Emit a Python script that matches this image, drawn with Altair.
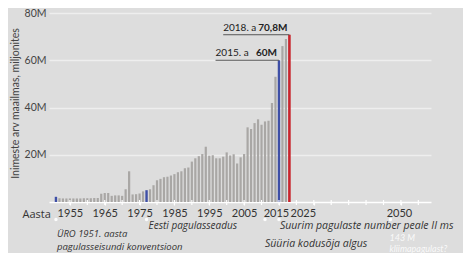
import altair as alt
import pandas as pd

# ---- data ----
years = list(range(1951, 2019))
refugees_m = [
    2.2,                                                      # 1951
    1.6, 1.5, 1.5, 1.5, 1.5, 1.5, 1.5, 1.6, 1.6, 1.6, 1.7, 1.7,  # 1952-1963
    3.5, 3.8, 3.8, 2.6, 2.8, 2.8, 2.6, 5.4, 13.0, 3.2,       # 1964-1973
    3.3, 3.6, 4.5, 5.0, 5.4, 7.1, 9.2, 9.8, 10.5, 10.7,      # 1974-1983
    11.2, 11.8, 12.6, 13.0, 14.3, 14.6, 17.1, 18.5, 19.4, 20.3,  # 1984-1993
    23.4, 19.6, 19.8, 18.5, 18.5, 19.2, 21.0, 19.7, 20.2, 16.3,  # 1994-2003
    18.9, 20.3, 31.6, 30.9, 33.4, 35.0, 32.7, 34.1, 34.4, 41.9,  # 2004-2013
    53.0, 60.0, 66.0, 69.0, 70.8,                              # 2014-2018
]
blue_years = [1951, 1977, 2015]
red_years = [2018]

y_ticks = [20, 40, 60, 80]
x_tick_years = list(range(1955, 2060, 5))
x_label_years = [1955, 1965, 1975, 1985, 1995, 2005, 2015, 2025, 2050]

callout_years = [2015, 2018]
callout_values = [60, 70.8]
callout_prefix = ["2015. a", "2018. a"]
callout_bold = ["60M", "70,8M"]
callout_from = [1996.8, 1999.0]

ev_uro_year, ev_uro_lines = 1951, ["ÜRO 1951. aasta", "pagulasseisundi konventsioon"]
ev_est_year, ev_est_lines = 1977, ["Eesti pagulasseadus"]
ev_max_year, ev_max_lines = 2015, ["Suurim pagulaste number peale II ms"]
ev_syr_year, ev_syr_lines = 2011, ["Süüria kodusõja algus"]
ev_clim_year, ev_clim_lines = 2047, ["143 M", "kliimapagulast?"]

# ---- build tables ----
kind = ["blue" if y in blue_years else "red" if y in red_years else "gray" for y in years]
bars_df = pd.DataFrame({"year": years, "value": refugees_m, "kind": kind})
call_df = pd.DataFrame({"year": callout_years, "value": callout_values,
                        "prefix": callout_prefix, "bold": callout_bold,
                        "ustart": callout_from})
ticks_df = pd.DataFrame({"year": x_tick_years})

FONT = "Lato"
ANN_FONT = "Open Sans"
TXT = "#333333"
xscale = alt.Scale(domain=[1950.44, 2057.2], nice=False, zero=False)
yscale = alt.Scale(domain=[0, 80], nice=False)

bars = alt.Chart(bars_df).mark_bar().encode(
    x=alt.X("year:Q", scale=xscale,
            axis=alt.Axis(values=x_label_years, format="d",
                          labelOffset={"condition": [
                              {"test": "datum.value == 2025", "value": -11},
                              {"test": "datum.value == 2015", "value": -3},
                              {"test": "datum.value == 2050", "value": -2}],
                              "value": 0},
                          labelOverlap=False, labelFlush=False,
                          grid=False, domainColor="white", domainWidth=1.5,
                          tickColor="white", tickSize=3, tickWidth=1.2,
                          labelColor=TXT, labelFontSize=11, labelPadding=2, labelFont=FONT,
                          title="Aasta", titleX=-27, titleY=15, titleAlign="left",
                          titleBaseline="alphabetic", titleFontWeight="normal",
                          titleFontSize=11, titleColor=TXT, titleFont=ANN_FONT)),
    y=alt.Y("value:Q", scale=yscale,
            axis=alt.Axis(values=y_ticks, labelExpr="datum.value + 'M'",
                          domain=False, ticks=False, gridColor="#eeeeee", gridWidth=1.3,
                          labelColor="#444444", labelFontSize=10.5, labelPadding=3, labelFont=FONT,
                          title="Inimeste arv maailmas, miljonites",
                          titleX=-34, titleY=90, titleAngle=-90, titleAlign="center",
                          titleBaseline="middle", titleFontWeight="normal",
                          titleFontSize=10.5, titleColor="#444444", titleFont=FONT)),
    color=alt.Color("kind:N", scale=alt.Scale(domain=["gray", "blue", "red"],
                                              range=["#a9a7a5", "#3e4fa6", "#c8252d"]),
                    legend=None),
    size=alt.Size("kind:N", scale=alt.Scale(domain=["gray", "blue", "red"],
                                            range=[2.2, 2.6, 3.0]),
                  legend=None),
)

# minor 5-year ticks along the axis line
minor_ticks = alt.Chart(ticks_df).mark_rule(color="white", strokeWidth=1.2).encode(
    x=alt.X("year:Q", scale=xscale), y=alt.value(187), y2=alt.value(192))

underline = alt.Chart(call_df).mark_rule(color="#555555", strokeWidth=1).encode(
    x=alt.X("ustart:Q", scale=xscale), x2="year:Q",
    y=alt.Y("value:Q", scale=yscale))

pref = alt.Chart(call_df).mark_text(align="left", baseline="alphabetic", dy=-4,
                                    fontSize=10, font=FONT, color="#222222").encode(
    x=alt.X("ustart:Q", scale=xscale),
    y=alt.Y("value:Q", scale=yscale), text="prefix:N")

bold = alt.Chart(call_df).mark_text(align="right", baseline="alphabetic", dx=-2, dy=-4,
                                    fontSize=10, font=FONT, fontWeight="bold",
                                    color="#222222").encode(
    x=alt.X("year:Q", scale=xscale),
    y=alt.Y("value:Q", scale=yscale), text="bold:N")

ev_years_all = [ev_uro_year, ev_est_year, ev_max_year, ev_syr_year, ev_clim_year]
dots = alt.Chart(pd.DataFrame({"year": ev_years_all})).mark_circle(
    size=12, color="white", opacity=0.9).encode(
    x=alt.X("year:Q", scale=xscale), y=alt.value(206.5))


def ev_text(year, lines, rows, dx, color=TXT, opacity=1.0, size=10, font=ANN_FONT):
    layers = []
    for line, row in zip(lines, rows):
        layers.append(
            alt.Chart(pd.DataFrame({"year": [year], "label": [line]})).mark_text(
                align="left", baseline="middle", dx=dx, fontSize=size, font=font,
                fontStyle="italic", color=color, opacity=opacity).encode(
                x=alt.X("year:Q", scale=xscale), y=alt.value(row),
                text="label:N"))
    return layers


texts = []
texts += ev_text(ev_uro_year, ev_uro_lines, [220.5, 234], 1, size=9.5)
texts += ev_text(ev_est_year, ev_est_lines, [213], 2)
texts += ev_text(ev_max_year, ev_max_lines, [213], 1, size=10.5)
texts += ev_text(ev_syr_year, ev_syr_lines, [231], 0, size=10.5)
texts += ev_text(ev_clim_year, ev_clim_lines, [225, 235.5], -1,
                 color="#ffffff", opacity=0.85, size=9, font=FONT)

chart = alt.layer(bars, minor_ticks, underline, pref, bold, dots, *texts).properties(
    width=382, height=189,
    autosize=alt.AutoSizeParams(type="none"),
    padding={"left": 41, "top": 5, "right": 32, "bottom": 51},
).configure(background="#dddddd", font=FONT).configure_view(
    strokeWidth=0).configure_axisX(labelOverlap=False)

chart.save("out.html", embed_options={"renderer": "svg", "actions": False})
